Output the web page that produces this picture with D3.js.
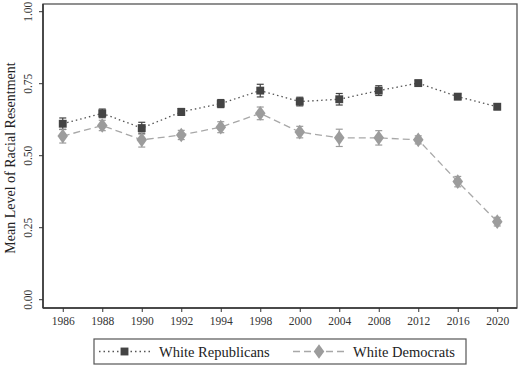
<!DOCTYPE html>
<html><head><meta charset="utf-8">
<script src="https://cdn.jsdelivr.net/npm/d3@7"></script>
<style>body{margin:0;background:#fff}svg{display:block}</style>
</head><body>
<svg id="c" width="520" height="368"></svg>
<script>
const years = ["1986","1988","1990","1992","1994","1998","2000","2004","2008","2012","2016","2020"];
const repValues = [0.611,0.647,0.596,0.652,0.681,0.726,0.688,0.696,0.726,0.752,0.705,0.670];
const repErr    = [0.020,0.015,0.020,0.012,0.014,0.022,0.015,0.020,0.017,0.010,0.010,0.010];
const demValues = [0.568,0.605,0.555,0.572,0.599,0.647,0.582,0.562,0.562,0.555,0.410,0.271];
const demErr    = [0.024,0.018,0.025,0.016,0.019,0.022,0.020,0.030,0.025,0.014,0.018,0.015];
const yTicks = [0,0.25,0.5,0.75,1];
const seriesNames = ["White Republicans","White Democrats"];

const svg = d3.select("#c");
const L=43, R=517, T=4, B=308;
const font = "'Liberation Serif', 'DejaVu Serif', serif";
const x = d3.scalePoint().domain(years).range([L,R]).padding(0.5);
const y = d3.scaleLinear().domain([0,1]).range([299.7,11.7]);

// frame
svg.append("rect").attr("x",L).attr("y",T).attr("width",R-L).attr("height",B-T)
  .attr("fill","none").attr("stroke","#555").attr("stroke-width",1.3);
svg.append("line").attr("x1",L).attr("x2",L).attr("y1",T).attr("y2",B).attr("stroke","#333").attr("stroke-width",1.5);
svg.append("line").attr("x1",L).attr("x2",R).attr("y1",B).attr("y2",B).attr("stroke","#333").attr("stroke-width",1.5);

// y axis
const ya = svg.append("g").attr("transform",`translate(${L},0)`)
  .call(d3.axisLeft(y).tickValues(yTicks).tickFormat(d3.format(".2f")).tickSize(4).tickPadding(0));
ya.select(".domain").remove();
ya.selectAll(".tick").attr("transform","translate(0,0)");
ya.selectAll(".tick line").attr("stroke","#333").attr("y1",d=>y(d)).attr("y2",d=>y(d));
ya.selectAll(".tick text").attr("font-family",font).attr("font-size",11.5).attr("fill","#333")
  .attr("text-anchor","middle").attr("x",0).attr("y",0).attr("dy","0.35em")
  .attr("transform",d=>`translate(-15,${y(d)}) rotate(-90)`);

// x axis
const xa = svg.append("g").attr("transform",`translate(0,${B})`)
  .call(d3.axisBottom(x).tickSize(4).tickPadding(5));
xa.select(".domain").remove();
xa.selectAll("line").attr("stroke","#333");
xa.selectAll("text").attr("font-family",font).attr("font-size",11.5).attr("fill","#333");

// axis title
svg.append("text").attr("transform",`translate(15,${(T+B)/2+2}) rotate(-90)`)
  .attr("text-anchor","middle").attr("font-family",font).attr("font-size",14).attr("fill","#222")
  .text("Mean Level of Racial Resentment");

const series = [
  {vals:repValues, err:repErr, color:"#444", lineColor:"#555", dash:"1.5,3", shape:"square"},
  {vals:demValues, err:demErr, color:"#9c9c9c", lineColor:"#a8a8a8", dash:"7,4", shape:"diamond"}
];

const line = d3.line().x((d,i)=>x(years[i])).y(d=>y(d));
series.forEach(s=>{
  svg.append("path").attr("d",line(s.vals)).attr("fill","none")
    .attr("stroke",s.lineColor).attr("stroke-width",1.3).attr("stroke-dasharray",s.dash);
});
series.forEach(s=>{
  const g = svg.append("g");
  s.vals.forEach((v,i)=>{
    const cx=x(years[i]), e=s.err[i];
    g.append("line").attr("x1",cx).attr("x2",cx).attr("y1",y(v-e)).attr("y2",y(v+e)).attr("stroke",s.color).attr("stroke-width",1.2);
    [v-e,v+e].forEach(w=>g.append("line").attr("x1",cx-3.5).attr("x2",cx+3.5).attr("y1",y(w)).attr("y2",y(w)).attr("stroke",s.color).attr("stroke-width",1.2));
  });
  const sym = d3.symbol().type(s.shape==="square"?d3.symbolSquare:d3.symbolDiamond).size(s.shape==="square"?62:62);
  g.selectAll("path.m").data(s.vals).join("path").attr("class","m")
    .attr("d",sym).attr("transform",(d,i)=>`translate(${x(years[i])},${y(d)})`+(s.shape==="diamond"?" scale(1.25,1)":""))
    .attr("fill",s.color);
});

// legend
svg.append("rect").attr("x",94).attr("y",339).attr("width",372).attr("height",25)
  .attr("fill","#fff").attr("stroke","#555").attr("stroke-width",1.2);
const legPos = [{x0:99,x1:150,tx:159},{x0:293,x1:345,tx:353}];
series.forEach((s,i)=>{
  const p=legPos[i], cy=351.5;
  svg.append("line").attr("x1",p.x0).attr("x2",p.x1).attr("y1",cy).attr("y2",cy)
    .attr("stroke",s.lineColor).attr("stroke-width",1.3).attr("stroke-dasharray",s.dash);
  const sym = d3.symbol().type(s.shape==="square"?d3.symbolSquare:d3.symbolDiamond).size(62);
  svg.append("path").attr("d",sym).attr("transform",`translate(${(p.x0+p.x1)/2},${cy})`+(s.shape==="diamond"?" scale(1.25,1)":"")).attr("fill",s.color);
  svg.append("text").attr("x",p.tx).attr("y",cy).attr("dy","0.35em").attr("font-family",font)
    .attr("font-size",14.5).attr("fill","#222").text(seriesNames[i]);
});
</script>
</body></html>
